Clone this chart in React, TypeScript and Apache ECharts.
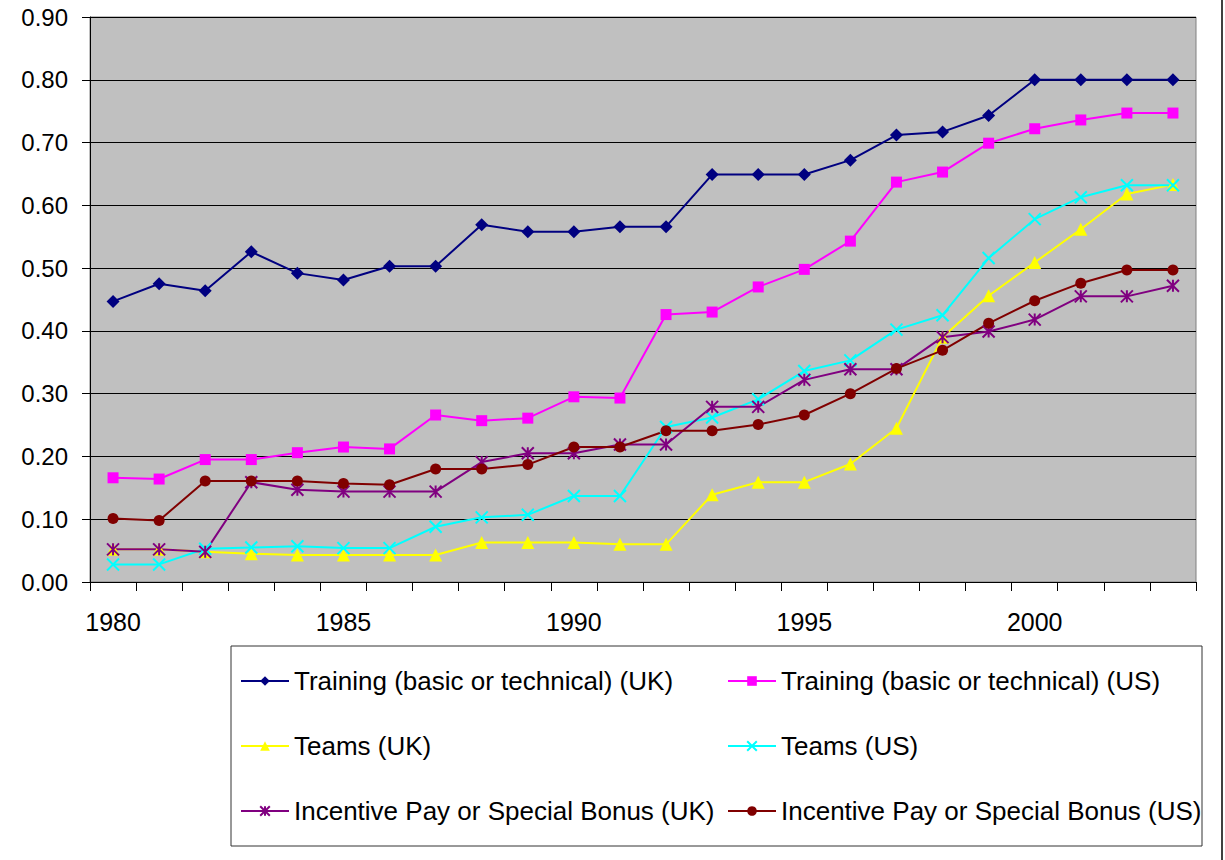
import React, { useEffect, useRef } from "react";
import * as echarts from "echarts";

const years = ["1980","1981","1982","1983","1984","1985","1986","1987","1988","1989","1990","1991","1992","1993","1994","1995","1996","1997","1998","1999","2000","2001","2002","2003"];

const trainingUK = [0.447,0.475,0.464,0.526,0.492,0.481,0.503,0.503,0.569,0.558,0.558,0.566,0.566,0.649,0.649,0.649,0.672,0.712,0.717,0.743,0.800,0.800,0.800,0.800];
const trainingUS = [0.166,0.164,0.195,0.195,0.206,0.215,0.212,0.266,0.257,0.261,0.295,0.293,0.426,0.430,0.470,0.498,0.543,0.637,0.653,0.699,0.722,0.736,0.747,0.747];
const teamsUK = [0.052,0.052,0.048,0.045,0.043,0.043,0.043,0.043,0.063,0.063,0.063,0.060,0.060,0.139,0.159,0.159,0.188,0.245,0.390,0.456,0.509,0.562,0.618,0.633];
const teamsUS = [0.028,0.028,0.053,0.055,0.057,0.054,0.054,0.088,0.103,0.107,0.137,0.137,0.247,0.262,0.291,0.336,0.353,0.402,0.425,0.516,0.578,0.613,0.632,0.632];
const incentiveUK = [0.052,0.052,0.048,0.159,0.147,0.144,0.144,0.144,0.191,0.205,0.205,0.219,0.219,0.279,0.279,0.322,0.339,0.339,0.390,0.399,0.418,0.455,0.455,0.472];
const incentiveUS = [0.101,0.098,0.161,0.161,0.161,0.157,0.155,0.180,0.180,0.187,0.215,0.215,0.241,0.241,0.251,0.266,0.300,0.340,0.369,0.412,0.448,0.476,0.497,0.497];

const seriesNames = [
  "Training (basic or technical) (UK)",
  "Training (basic or technical) (US)",
  "Teams (UK)",
  "Teams (US)",
  "Incentive Pay or Special Bonus (UK)",
  "Incentive Pay or Special Bonus (US)",
];

const FONT = "Arial, 'Liberation Sans', sans-serif";
const CROSS = "path://M0,0L10,10M10,0L0,10";
const STAR = "path://M0,0L10,10M10,0L0,10M5,0L5,10";

export default function App() {
  const ref = useRef<HTMLDivElement>(null);
  useEffect(() => {
    if (!ref.current) return;
    const chart = echarts.init(ref.current, null, { renderer: "svg" });
    const mk = (name: string, data: number[], color: string, symbol: string, size: number, stroke = false) => ({
      name,
      type: "line",
      data,
      symbol,
      symbolSize: size,
      lineStyle: { color, width: 2 },
      itemStyle: stroke
        ? { color, borderColor: color, borderWidth: 2 }
        : { color, borderWidth: 0 },
      emphasis: { disabled: true },
    });
    const legendText = { fontSize: 26, lineHeight: 26, color: "#000", fontFamily: FONT };
    chart.setOption({
      animation: false,
      backgroundColor: "#ffffff",
      grid: {
        left: 90,
        top: 17,
        right: 29,
        bottom: 278,
        show: true,
        backgroundColor: "#C0C0C0",
        borderColor: "#808080",
        borderWidth: 1,
      },
      xAxis: {
        type: "category",
        data: years,
        boundaryGap: true,
        axisLine: { show: true, lineStyle: { color: "#000", width: 1 } },
        axisTick: { show: true, interval: 0, length: 9, lineStyle: { color: "#000" } },
        axisLabel: { interval: 4, margin: 27, fontSize: 25, color: "#000", fontFamily: FONT },
        splitLine: { show: false },
      },
      yAxis: {
        type: "value",
        min: 0,
        max: 0.9,
        interval: 0.1,
        axisLine: { show: true, lineStyle: { color: "#000", width: 1 } },
        axisTick: { show: true, length: 8, lineStyle: { color: "#000" } },
        axisLabel: {
          margin: 22,
          fontSize: 24,
          color: "#000",
          fontFamily: FONT,
          formatter: (v: number) => v.toFixed(2),
        },
        splitLine: { show: true, lineStyle: { color: "#000", width: 1 } },
      },
      legend: [
        {
          orient: "vertical",
          left: 240,
          top: 668,
          padding: 0,
          itemWidth: 48,
          itemHeight: 12,
          itemGap: 39,
          data: [seriesNames[0], seriesNames[2], seriesNames[4]],
          textStyle: legendText,
        },
        {
          orient: "vertical",
          left: 727,
          top: 668,
          padding: 0,
          itemWidth: 48,
          itemHeight: 12,
          itemGap: 39,
          data: [seriesNames[1], seriesNames[3], seriesNames[5]],
          textStyle: legendText,
        },
      ],
      graphic: [
        {
          type: "rect",
          shape: { x: 231, y: 646, width: 971, height: 200 },
          style: { fill: "none", stroke: "#333", lineWidth: 1 },
          silent: true,
        },
        {
          type: "line",
          shape: { x1: 1222, y1: 0, x2: 1222, y2: 860 },
          style: { stroke: "#000", lineWidth: 1.5 },
          silent: true,
        },
      ],
      series: [
        mk(seriesNames[0], trainingUK, "#000080", "diamond", 13),
        mk(seriesNames[1], trainingUS, "#FF00FF", "rect", 11),
        mk(seriesNames[2], teamsUK, "#FFFF00", "triangle", 13),
        mk(seriesNames[3], teamsUS, "#00FFFF", CROSS, 12, true),
        mk(seriesNames[4], incentiveUK, "#800080", STAR, 12, true),
        mk(seriesNames[5], incentiveUS, "#800000", "circle", 11),
      ],
    });
    return () => chart.dispose();
  }, []);
  return (
    <div
      ref={ref}
      style={{ position: "fixed", left: 0, top: 0, width: 1225, height: 860, background: "#fff" }}
    />
  );
}
